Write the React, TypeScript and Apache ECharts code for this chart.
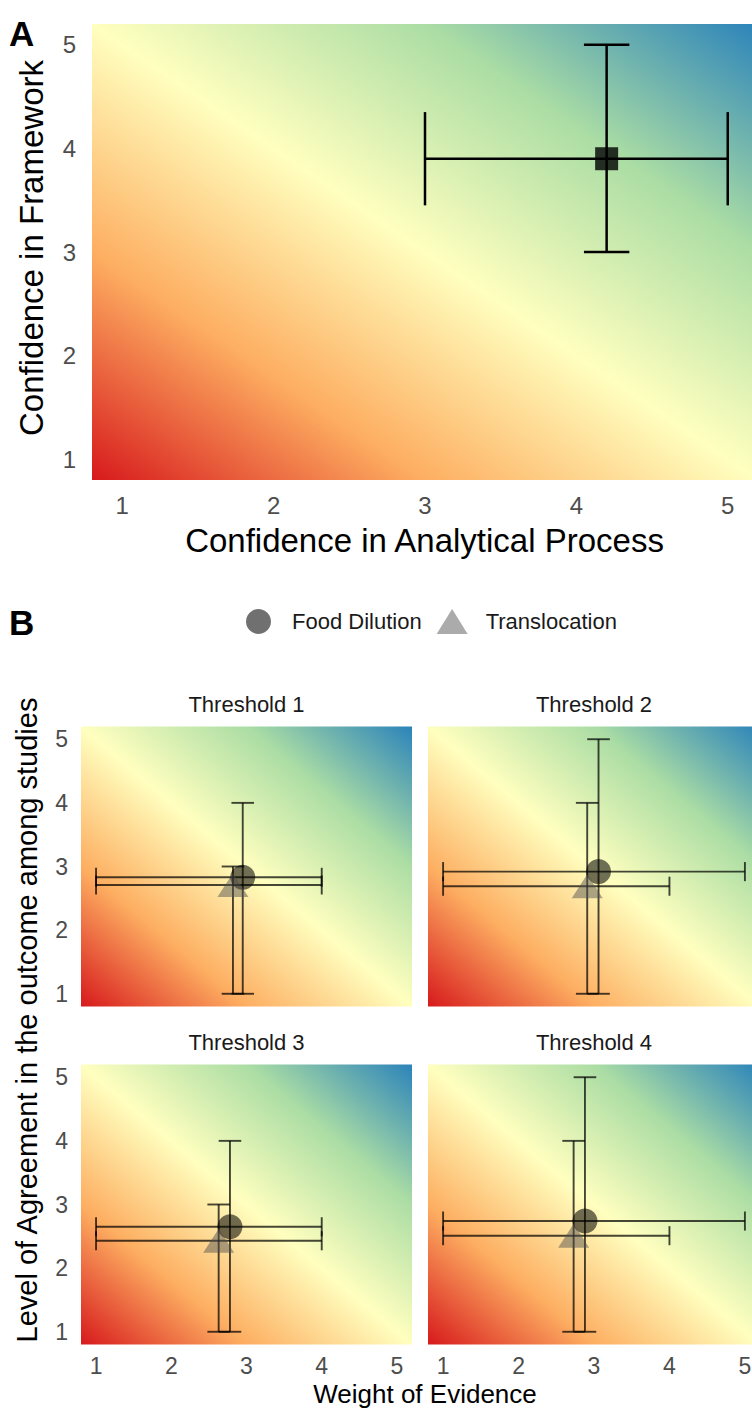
import React, { useEffect, useRef } from 'react';
import * as echarts from 'echarts';

// ---------- data ----------
const AXIS_MIN = 0.8;
const AXIS_MAX = 5.2;
const TICKS = [1, 2, 3, 4, 5];
const SPECTRAL = ['#d7191c', '#fdae61', '#ffffbf', '#abdda4', '#2b83ba'];

// Panel A
const A_X = [4.2];
const A_Y = [3.9];
const A_X_LO = [3];
const A_X_HI = [5];
const A_Y_LO = [3];
const A_Y_HI = [5];

// Panel B
const THRESHOLDS = ['Threshold 1', 'Threshold 2', 'Threshold 3', 'Threshold 4'];
const FOOD_X = [2.95, 3.06, 2.78, 2.88];
const FOOD_Y = [2.83, 2.92, 2.65, 2.74];
const FOOD_X_LO = [1, 1, 1, 1];
const FOOD_X_HI = [4, 5, 4, 5];
const FOOD_Y_LO = [1, 1, 1, 1];
const FOOD_Y_HI = [4, 5, 4, 5];
const TRANS_X = [2.82, 2.91, 2.63, 2.73];
const TRANS_Y = [2.71, 2.69, 2.43, 2.51];
const TRANS_X_LO = [1, 1, 1, 1];
const TRANS_X_HI = [4, 4, 4, 4];
const TRANS_Y_LO = [1, 1, 1, 1];
const TRANS_Y_HI = [3, 4, 3, 4];

const SERIES_NAMES = ['Food Dilution', 'Translocation'];

// ---------- layout ----------
const FONT = '"Liberation Sans", Arial, Helvetica, sans-serif';
const GRID_A = { left: 92, top: 24, width: 666, height: 456 };
const FACET_LEFT = [81, 428, 81, 428];
const FACET_TOP = [726.5, 726.5, 1064.5, 1064.5];
const FACET_W = [331, 332, 331, 332];
const FACET_H = 280;
const TICK_SIZE = 24;
const FACET_TICK_SIZE = 23;

function bgSeries(idx: number) {
  return {
    type: 'custom',
    xAxisIndex: idx,
    yAxisIndex: idx,
    silent: true,
    z: 0,
    clip: false,
    data: [[AXIS_MIN, AXIS_MIN, AXIS_MAX, AXIS_MAX]],
    encode: { x: [0, 2], y: [1, 3] },
    renderItem: (params: any, api: any) => {
      const p0 = api.coord([api.value(0), api.value(1)]);
      const p1 = api.coord([api.value(2), api.value(3)]);
      const x = p0[0];
      const y = p1[1];
      const w = p1[0] - p0[0];
      const h = p0[1] - p1[1];
      const s = (2 * w * h) / (w * w + h * h);
      const gx0 = x;
      const gy0 = y + h;
      const gx1 = x + s * h;
      const gy1 = y + h - s * w;
      const stops = SPECTRAL.map((c, i) => ({ offset: i / (SPECTRAL.length - 1), color: c }));
      return {
        type: 'rect',
        shape: { x, y, width: w, height: h },
        style: { fill: new echarts.graphic.LinearGradient(gx0, gy0, gx1, gy1, stops, true) },
        silent: true,
      };
    },
  };
}

function vErr(idx: number, xs: number[], lo: number[], hi: number[], capW: number, color: string, lw: number) {
  return {
    type: 'custom',
    xAxisIndex: idx,
    yAxisIndex: idx,
    silent: true,
    z: 3,
    data: xs.map((x, i) => [x, lo[i], hi[i]]),
    encode: { x: 0, y: [1, 2] },
    renderItem: (params: any, api: any) => {
      const x = api.value(0);
      const l = api.value(1);
      const h = api.value(2);
      const a = api.coord([x, l]);
      const b = api.coord([x, h]);
      const al = api.coord([x - capW / 2, l]);
      const ar = api.coord([x + capW / 2, l]);
      const bl = api.coord([x - capW / 2, h]);
      const br = api.coord([x + capW / 2, h]);
      const style = { stroke: color, lineWidth: lw, fill: null };
      return {
        type: 'group',
        children: [
          { type: 'line', shape: { x1: a[0], y1: a[1], x2: b[0], y2: b[1] }, style },
          { type: 'line', shape: { x1: al[0], y1: al[1], x2: ar[0], y2: ar[1] }, style },
          { type: 'line', shape: { x1: bl[0], y1: bl[1], x2: br[0], y2: br[1] }, style },
        ],
      };
    },
  };
}

function hErr(idx: number, ys: number[], lo: number[], hi: number[], capH: number, color: string, lw: number) {
  return {
    type: 'custom',
    xAxisIndex: idx,
    yAxisIndex: idx,
    silent: true,
    z: 3,
    data: ys.map((y, i) => [y, lo[i], hi[i]]),
    encode: { y: 0, x: [1, 2] },
    renderItem: (params: any, api: any) => {
      const y = api.value(0);
      const l = api.value(1);
      const h = api.value(2);
      const a = api.coord([l, y]);
      const b = api.coord([h, y]);
      const at = api.coord([l, y + capH / 2]);
      const ab = api.coord([l, y - capH / 2]);
      const bt = api.coord([h, y + capH / 2]);
      const bb = api.coord([h, y - capH / 2]);
      const style = { stroke: color, lineWidth: lw, fill: null };
      return {
        type: 'group',
        children: [
          { type: 'line', shape: { x1: a[0], y1: a[1], x2: b[0], y2: b[1] }, style },
          { type: 'line', shape: { x1: at[0], y1: at[1], x2: ab[0], y2: ab[1] }, style },
          { type: 'line', shape: { x1: bt[0], y1: bt[1], x2: bb[0], y2: bb[1] }, style },
        ],
      };
    },
  };
}

function axis(idx: number, show: boolean, margin: number, size: number) {
  return {
    type: 'value',
    gridIndex: idx,
    min: AXIS_MIN,
    max: AXIS_MAX,
    axisLine: { show: false },
    axisTick: { show: false },
    splitLine: { show: false },
    axisLabel: {
      show,
      customValues: TICKS,
      fontSize: size,
      lineHeight: size,
      color: '#4d4d4d',
      fontFamily: FONT,
      margin,
    },
  };
}

function txt(x: number, y: number, text: string, size: number, opts: any = {}) {
  return {
    type: 'text',
    x,
    y,
    rotation: opts.rotation || 0,
    silent: true,
    style: {
      text,
      fontSize: size,
      lineHeight: size,
      fontFamily: FONT,
      fontWeight: opts.bold ? 'bold' : 'normal',
      fill: opts.color || '#000',
      align: opts.align || 'center',
      textAlign: opts.align || 'center',
      verticalAlign: 'middle',
      textVerticalAlign: 'middle',
    },
  };
}

function buildOption() {
  const grids: any[] = [{ ...GRID_A, outerBoundsMode: 'none', containLabel: false }];
  const xAxes: any[] = [axis(0, true, 13, TICK_SIZE)];
  const yAxes: any[] = [axis(0, true, 16, TICK_SIZE)];
  const series: any[] = [
    bgSeries(0),
    vErr(0, A_X, A_Y_LO, A_Y_HI, 0.3, '#000', 2.5),
    hErr(0, A_Y, A_X_LO, A_X_HI, 0.9, '#000', 2.5),
    {
      type: 'scatter',
      name: 'Panel A',
      xAxisIndex: 0,
      yAxisIndex: 0,
      symbol: 'rect',
      symbolSize: 23,
      z: 4,
      silent: true,
      itemStyle: { color: '#000' },
      data: A_X.map((x, i) => [x, A_Y[i]]),
    },
  ];

  const graphic: any[] = [
    txt(9, 33, 'A', 35, { bold: true, align: 'left' }),
    txt(31.5, 248, 'Confidence in Framework', 33, { rotation: Math.PI / 2 }),
    txt(424.5, 540, 'Confidence in Analytical Process', 33),
    txt(9, 622.5, 'B', 35, { bold: true, align: 'left' }),
    txt(425, 1394, 'Weight of Evidence', 26),
    txt(27, 1020, 'Level of Agreement in the outcome among studies', 29, { rotation: Math.PI / 2 }),
  ];

  const ebColor = 'rgba(0,0,0,0.72)';
  THRESHOLDS.forEach((name, i) => {
    const gi = i + 1;
    grids.push({
      left: FACET_LEFT[i],
      top: FACET_TOP[i],
      width: FACET_W[i],
      height: FACET_H,
      outerBoundsMode: 'none',
      containLabel: false,
    });
    xAxes.push(axis(gi, i >= 2, 10, FACET_TICK_SIZE));
    yAxes.push(axis(gi, i % 2 === 0, 13, FACET_TICK_SIZE));
    series.push(bgSeries(gi));
    series.push(vErr(gi, [FOOD_X[i]], [FOOD_Y_LO[i]], [FOOD_Y_HI[i]], 0.3, ebColor, 1.9));
    series.push(hErr(gi, [FOOD_Y[i]], [FOOD_X_LO[i]], [FOOD_X_HI[i]], 0.3, ebColor, 1.9));
    series.push(vErr(gi, [TRANS_X[i]], [TRANS_Y_LO[i]], [TRANS_Y_HI[i]], 0.3, ebColor, 1.9));
    series.push(hErr(gi, [TRANS_Y[i]], [TRANS_X_LO[i]], [TRANS_X_HI[i]], 0.3, ebColor, 1.9));
    series.push({
      type: 'scatter',
      name: SERIES_NAMES[0],
      xAxisIndex: gi,
      yAxisIndex: gi,
      symbol: 'circle',
      symbolSize: 25,
      z: 4,
      silent: true,
      itemStyle: { color: 'rgba(0,0,0,0.7)' },
      data: [[FOOD_X[i], FOOD_Y[i]]],
    });
    series.push({
      type: 'scatter',
      name: SERIES_NAMES[1],
      xAxisIndex: gi,
      yAxisIndex: gi,
      symbol: 'triangle',
      symbolSize: [31, 24],
      z: 5,
      silent: true,
      itemStyle: { color: 'rgba(80,80,80,0.6)' },
      data: [[TRANS_X[i], TRANS_Y[i]]],
    });
    const cx = FACET_LEFT[i] + FACET_W[i] / 2;
    graphic.push(txt(cx, FACET_TOP[i] - 22, name, 22, { color: '#1a1a1a' }));
  });

  return {
    animation: false,
    backgroundColor: '#ffffff',
    grid: grids,
    xAxis: xAxes,
    yAxis: yAxes,
    series,
    graphic,
    legend: {
      show: true,
      left: 241,
      top: 604,
      orient: 'horizontal',
      itemWidth: 31,
      itemHeight: 25,
      itemGap: 15,
      selectedMode: false,
      textStyle: { fontSize: 22, color: '#1a1a1a', fontFamily: FONT, padding: [0, 0, 0, 13] },
      data: [
        { name: SERIES_NAMES[0], icon: 'circle' },
        { name: SERIES_NAMES[1], icon: 'triangle' },
      ],
    },
  };
}

export default function App() {
  const ref = useRef<HTMLDivElement>(null);
  useEffect(() => {
    if (!ref.current) return;
    const chart = echarts.init(ref.current, null, { renderer: 'svg', width: 752, height: 1412 });
    chart.setOption(buildOption() as any);
    return () => {
      chart.dispose();
    };
  }, []);
  return (
    <div
      ref={ref}
      style={{ position: 'absolute', left: 0, top: 0, width: 752, height: 1412, background: '#fff', overflow: 'hidden' }}
    />
  );
}
